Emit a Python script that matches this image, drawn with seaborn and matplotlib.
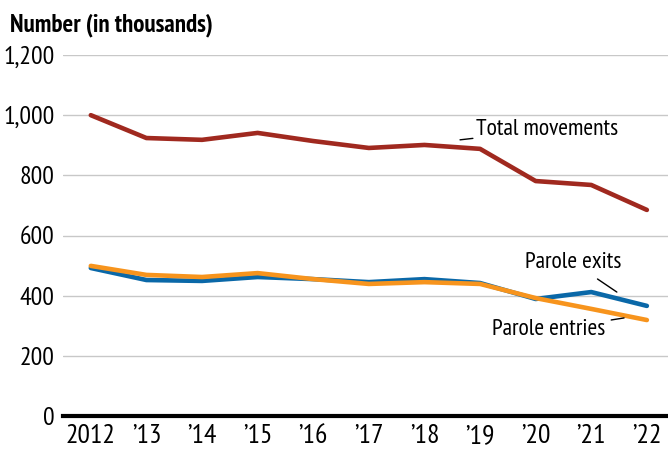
import pandas as pd
import matplotlib.pyplot as plt
import seaborn as sns

# values in thousands
years = [2012, 2013, 2014, 2015, 2016, 2017, 2018, 2019, 2020, 2021, 2022]
year_labels = ["2012", "\u201913", "\u201914", "\u201915", "\u201916", "\u201917",
               "\u201918", "\u201919", "\u201920", "\u201921", "\u201922"]
total_movements = [1000, 924, 918, 941, 914, 891, 901, 888, 781, 768, 685]
parole_exits = [492, 452, 449, 462, 455, 445, 455, 442, 389, 412, 366]
parole_entries = [499, 469, 462, 475, 455, 439, 445, 439, 392, 356, 319]

df = pd.DataFrame({
    "year": years * 3,
    "value": total_movements + parole_exits + parole_entries,
    "series": ["Total movements"] * 11 + ["Parole exits"] * 11 + ["Parole entries"] * 11,
})

sns.set_style("white")
plt.rcParams["font.family"] = ["PT Sans Narrow", "DejaVu Sans"]
plt.rcParams["text.color"] = "black"
plt.rcParams["xtick.color"] = "black"
plt.rcParams["ytick.color"] = "black"

fig = plt.figure(figsize=(6.68, 4.5), dpi=100)
ax = fig.add_axes([63 / 668, 1 - 416 / 450, 1 - 63 / 668, (416 - 55) / 450])

farben = {"Total movements": "#a0291f", "Parole exits": "#0a68a8", "Parole entries": "#f7941d"}
sns.lineplot(data=df, x="year", y="value", hue="series", palette=farben,
             linewidth=3.3, ax=ax, legend=False, clip_on=False)

ax.set_xlim(2011.50, 2022.38)
ax.set_ylim(0, 1200)
ax.set_yticks(range(0, 1201, 200))
ax.set_yticklabels([f"{v:,}" for v in range(0, 1201, 200)], fontsize=18.5)
ax.set_xticks(years)
ax.set_xticklabels(year_labels, fontsize=20)
ax.yaxis.grid(True, color="#c8c8c8", linewidth=1)
ax.set_axisbelow(True)
for s in ["top", "right", "left"]:
    ax.spines[s].set_visible(False)
ax.spines["bottom"].set_linewidth(3)
ax.spines["bottom"].set_color("black")
ax.spines["bottom"].set_zorder(5)
ax.tick_params(axis="x", direction="out", length=6, width=2, color="black", pad=0)
ax.tick_params(axis="y", length=0, pad=6)
ax.set_xlabel("")
ax.set_ylabel("")

fig.text(10 / 668, 1 - 25 / 450, "Number (in thousands)", fontsize=18,
         fontweight="bold", va="center", ha="left")

# Beschriftungen mit Hinweislinien
ax.annotate("Total movements", xy=(2018.64, 918), xytext=(2018.93, 951),
            fontsize=17, va="center", ha="left",
            arrowprops=dict(arrowstyle="-", color="black", lw=1, shrinkA=0, shrinkB=0))
ax.annotate("Parole exits", xy=(2021.46, 412), xytext=(2021.55, 509),
            fontsize=17, va="center", ha="right",
            arrowprops=dict(arrowstyle="-", color="black", lw=1, shrinkA=3, shrinkB=0))
ax.annotate("Parole entries", xy=(2021.59, 326), xytext=(2021.25, 286),
            fontsize=17, va="center", ha="right",
            arrowprops=dict(arrowstyle="-", color="black", lw=1, shrinkA=2, shrinkB=0))

plt.savefig("out.png", dpi=100)
